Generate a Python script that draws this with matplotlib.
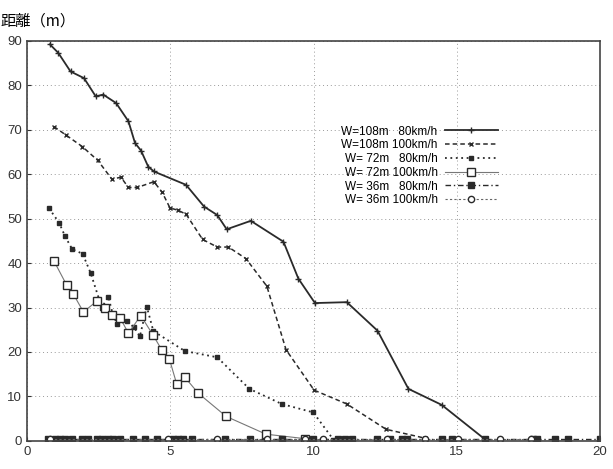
import numpy as np
import matplotlib
matplotlib.use('Agg')
import matplotlib.pyplot as plt

plt.rcParams['font.family'] = ['Liberation Sans', 'DejaVu Sans']

# W=108m 80km/h
x_108_80 = [0.80, 1.09, 1.52, 1.99, 2.40, 2.66, 3.11, 3.54, 3.77, 3.98, 4.23, 4.43,
            5.55, 6.18, 6.64, 6.97, 7.81, 8.95, 9.47, 10.05, 11.16, 12.23, 13.31,
            14.47, 15.99]
y_108_80 = [89.2, 87.3, 83.1, 81.6, 77.5, 77.9, 76.0, 71.9, 67.0, 65.3, 61.7, 60.6,
            57.6, 52.7, 50.8, 47.6, 49.5, 44.8, 36.5, 31.0, 31.2, 24.8, 11.7,
            8.1, 0.3]

# W=108m 100km/h
x_108_100 = [0.94, 1.36, 1.93, 2.47, 2.96, 3.28, 3.54, 3.85, 4.43, 4.72, 4.99, 5.26,
             5.55, 6.13, 6.64, 7.03, 7.64, 8.37, 9.04, 10.02, 11.16, 12.53, 13.89]
y_108_100 = [70.7, 68.8, 66.2, 63.1, 58.9, 59.3, 57.0, 57.0, 58.3, 55.9, 52.4, 51.9,
             51.0, 45.3, 43.6, 43.6, 41.0, 34.8, 20.5, 11.4, 8.3, 2.6, 0.6]

# W=72m 80km/h
x_72_80 = [0.77, 1.12, 1.33, 1.58, 1.94, 2.22, 2.61, 2.84, 2.99, 3.15, 3.48, 3.73,
           3.94, 4.18, 4.41, 5.51, 6.64, 7.76, 8.89, 9.99, 10.69]
y_72_80 = [52.3, 49.1, 46.0, 43.1, 42.1, 37.8, 30.0, 32.4, 28.6, 26.2, 26.9, 25.6,
           23.5, 30.2, 24.7, 20.2, 18.8, 11.7, 8.3, 6.4, 0.3]

# W=72m 100km/h
x_72_100 = [0.94, 1.38, 1.62, 1.97, 2.43, 2.72, 2.96, 3.25, 3.54, 3.97, 4.39, 4.70,
            4.97, 5.22, 5.51, 5.98, 6.95, 8.34, 9.70]
y_72_100 = [40.5, 35.1, 33.0, 29.0, 31.4, 29.9, 28.4, 27.7, 24.2, 28.2, 23.9, 20.5,
            18.4, 12.9, 14.3, 10.7, 5.5, 1.5, 0.5]

# W=36m 80km/h
x_36_80 = [0.73, 0.98, 1.15, 1.33, 1.57, 1.92, 2.13, 2.44, 2.62, 2.83, 3.00, 3.25,
           3.70, 4.12, 4.54, 5.10, 5.27, 5.44, 5.76, 6.91, 7.78, 8.90, 9.98, 10.87,
           11.10, 11.33, 12.20, 12.66, 13.10, 13.25, 14.47, 14.82, 15.99, 17.67,
           17.79, 18.43, 18.89, 20.00]
y_36_80 = [0.5] * len(x_36_80)

# W=36m 100km/h
x_36_100 = [0.80, 4.93, 6.62, 8.37, 9.70, 10.34, 12.56, 13.89, 15.04, 16.51, 17.60]
y_36_100 = [0.5] * len(x_36_100)

labels = ['W=108m   80km/h', 'W=108m 100km/h', 'W= 72m   80km/h',
          'W= 72m 100km/h', 'W= 36m   80km/h', 'W= 36m 100km/h']

fig = plt.figure(figsize=(6.13, 4.69), dpi=100)
ax = fig.add_axes([0.044, 0.060, 0.935, 0.853])

c = '#2a2a2a'
ax.plot(x_108_80, y_108_80, '-', color=c, lw=1.3, marker='+', ms=4, label=labels[0])
ax.plot(x_108_100, y_108_100, linestyle=(0, (3, 2)), color=c, lw=1.1,
        marker='x', ms=3.5, label=labels[1])
ax.plot(x_72_80, y_72_80, linestyle=(0, (1, 2)), color=c, lw=1.3,
        marker='s', ms=3.5, mfc=c, label=labels[2])
ax.plot(x_72_100, y_72_100, '-', color='#777777', lw=0.8,
        marker='s', ms=5.5, mfc='white', mec=c, label=labels[3])
ax.plot(x_36_80, y_36_80, linestyle=(0, (4, 2, 1, 2)), color=c, lw=1.0,
        marker='s', ms=4, mfc=c, label=labels[4])
ax.plot(x_36_100, y_36_100, linestyle=(0, (2, 2)), color='#666666', lw=0.8,
        marker='o', ms=4.5, mfc='white', mec=c, label=labels[5])

ax.set_xlim(0, 20)
ax.set_ylim(0, 90)
ax.set_xticks(np.arange(0, 21, 5))
ax.set_yticks(np.arange(0, 91, 10))
ax.tick_params(labelsize=9.5, length=3, direction='in', colors='#333333')
ax.grid(True, linestyle=(0, (1, 3)), color='#999999', lw=0.7)
for s in ax.spines.values():
    s.set_color('#444444')
    s.set_linewidth(1.2)

ax.legend(loc='upper left', bbox_to_anchor=(0.54, 0.80), frameon=False,
          markerfirst=False, fontsize=8.5, handlelength=4.5, labelspacing=0.15,
          handletextpad=0.6, borderaxespad=0)

fig.text(0.0, 0.955, '距離（m）', fontsize=11,
         family=['Noto Sans CJK JP', 'DejaVu Sans'], va='center', ha='left')

fig.savefig('out.png', dpi=100)
